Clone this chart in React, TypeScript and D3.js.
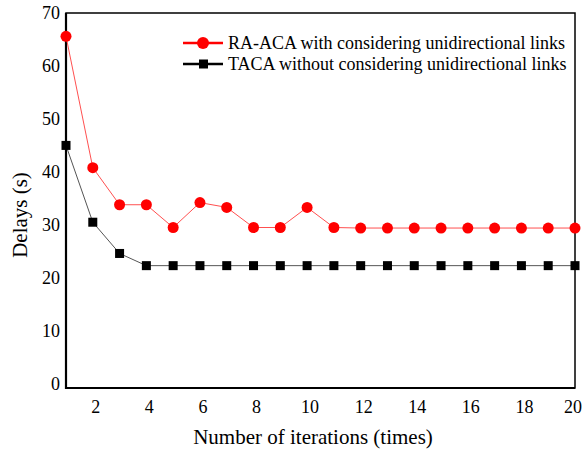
import React, { useEffect, useRef } from "react";
import * as d3 from "d3";

const WIDTH = 585;
const HEIGHT = 450;

const iterations = d3.range(1, 21);
const raAca = [65.6, 40.8, 33.8, 33.8, 29.5, 34.2, 33.3, 29.5, 29.5, 33.3, 29.5, 29.4, 29.4, 29.4, 29.4, 29.4, 29.4, 29.4, 29.4, 29.4];
const taca = [45.0, 30.5, 24.6, 22.3, 22.3, 22.3, 22.3, 22.3, 22.3, 22.3, 22.3, 22.3, 22.3, 22.3, 22.3, 22.3, 22.3, 22.3, 22.3, 22.3];
const xTicks = [2, 4, 6, 8, 10, 12, 14, 16, 18, 20];
const yTicks = [0, 10, 20, 30, 40, 50, 60, 70];
const legendLabels = [
  "RA-ACA with considering unidirectional links",
  "TACA without considering unidirectional links",
];

const FONT = "'Liberation Serif', 'Times New Roman', serif";

function App() {
  const ref = useRef<SVGSVGElement>(null);

  useEffect(() => {
    if (!ref.current) return;
    const svg = d3.select(ref.current);
    svg.selectAll("*").remove();

    const x = d3.scaleLinear().domain([1, 20]).range([66, 575]);
    const y = d3.scaleLinear().domain([-0.8, 70]).range([388, 13]);

    const g = svg.append("g");

    // frame
    g.append("rect")
      .attr("x", x(1))
      .attr("y", y(70))
      .attr("width", x(20) - x(1))
      .attr("height", y(-0.8) - y(70))
      .attr("fill", "none")
      .attr("stroke", "#000")
      .attr("stroke-width", 1.5);
    g.append("path")
      .attr("d", `M${x(1)},${y(70)}V${y(-0.8)}H${x(20)}`)
      .attr("fill", "none")
      .attr("stroke", "#000")
      .attr("stroke-width", 2.2);

    // tick labels
    g.selectAll(".ytick")
      .data(yTicks)
      .enter()
      .append("text")
      .attr("class", "ytick")
      .attr("x", x(1) - 6)
      .attr("y", (d) => y(d))
      .attr("dy", "0.35em")
      .attr("text-anchor", "end")
      .attr("font-family", FONT)
      .attr("font-size", 18)
      .text((d) => d);

    g.selectAll(".xtick")
      .data(xTicks)
      .enter()
      .append("text")
      .attr("class", "xtick")
      .attr("x", (d) => x(d) + (d === 20 ? -2 : 3))
      .attr("y", 413)
      .attr("text-anchor", "middle")
      .attr("font-family", FONT)
      .attr("font-size", 18)
      .text((d) => d);

    // axis titles
    g.append("text")
      .attr("x", 313)
      .attr("y", 444)
      .attr("text-anchor", "middle")
      .attr("font-family", FONT)
      .attr("font-size", 21)
      .text("Number of iterations (times)");

    g.append("text")
      .attr("transform", `translate(27 215) rotate(-90)`)
      .attr("text-anchor", "middle")
      .attr("font-family", FONT)
      .attr("font-size", 21)
      .text("Delays (s)");

    const line = d3
      .line<number>()
      .x((_, i) => x(iterations[i]))
      .y((d) => y(d));

    // TACA series
    g.append("path")
      .attr("d", line(taca))
      .attr("fill", "none")
      .attr("stroke", "#555")
      .attr("stroke-width", 1);
    g.selectAll(".sq")
      .data(taca)
      .enter()
      .append("rect")
      .attr("class", "sq")
      .attr("x", (_, i) => x(iterations[i]) - 4.5)
      .attr("y", (d) => y(d) - 4.5)
      .attr("width", 9)
      .attr("height", 9)
      .attr("fill", "#000");

    // RA-ACA series
    g.append("path")
      .attr("d", line(raAca))
      .attr("fill", "none")
      .attr("stroke", "#ff5050")
      .attr("stroke-width", 1);
    g.selectAll(".dot")
      .data(raAca)
      .enter()
      .append("circle")
      .attr("class", "dot")
      .attr("cx", (_, i) => x(iterations[i]))
      .attr("cy", (d) => y(d))
      .attr("r", 5.5)
      .attr("fill", "#ff0000");

    // legend
    const legend = g
      .selectAll(".legend")
      .data(legendLabels)
      .enter()
      .append("g")
      .attr("class", "legend")
      .attr("transform", (_, i) => `translate(183 ${43 + i * 21})`);
    legend
      .append("line")
      .attr("x1", 0)
      .attr("x2", 40)
      .attr("stroke", (_, i) => (i === 0 ? "#ff0000" : "#000"))
      .attr("stroke-width", 2.5);
    legend
      .filter((_, i) => i === 0)
      .append("circle")
      .attr("cx", 20)
      .attr("r", 6)
      .attr("fill", "#ff0000");
    legend
      .filter((_, i) => i === 1)
      .append("rect")
      .attr("x", 16)
      .attr("y", -4.5)
      .attr("width", 9)
      .attr("height", 9)
      .attr("fill", "#000");
    legend
      .append("text")
      .attr("x", 45)
      .attr("dy", "0.35em")
      .attr("font-family", FONT)
      .attr("font-size", 18)
      .text((d) => d);
  }, []);

  return (
    <svg
      ref={ref}
      width={WIDTH}
      height={HEIGHT}
      style={{ position: "absolute", left: 0, top: 0, background: "#fff" }}
    />
  );
}

export default App;
